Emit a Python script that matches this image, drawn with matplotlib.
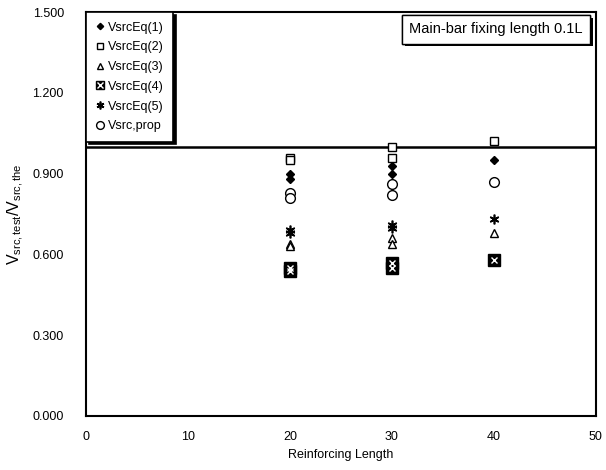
import matplotlib
matplotlib.use('Agg')
import matplotlib.pyplot as plt
import matplotlib.patheffects as pe
from matplotlib.legend_handler import HandlerTuple

plt.rcParams['font.family'] = ['Liberation Sans', 'DejaVu Sans']
plt.rcParams['mathtext.fontset'] = 'custom'
plt.rcParams['mathtext.rm'] = 'Liberation Sans'
plt.rcParams['mathtext.it'] = 'Liberation Sans'

# reinforcing length for every specimen
length = [20, 20, 30, 30, 40]

# ratio of test to predicted strength
eq1 = [0.90, 0.88, 0.93, 0.90, 0.95]
eq2 = [0.96, 0.95, 1.00, 0.96, 1.02]
eq3 = [0.64, 0.63, 0.66, 0.64, 0.68]
eq4 = [0.55, 0.54, 0.57, 0.55, 0.58]
eq5 = [0.69, 0.68, 0.71, 0.70, 0.73]
prop = [0.83, 0.81, 0.86, 0.82, 0.87]

labels = ['VsrcEq(1)', 'VsrcEq(2)', 'VsrcEq(3)', 'VsrcEq(4)', 'VsrcEq(5)', 'Vsrc,prop']
xticks = [0, 10, 20, 30, 40, 50]
yticks = [0.0, 0.3, 0.6, 0.9, 1.2, 1.5]

fig = plt.figure(figsize=(6.06, 4.70), dpi=100)
ax = fig.add_axes([0.142, 0.115, 0.841, 0.859])

ax.axhline(1.0, color='black', lw=1.8, zorder=1)

h1, = ax.plot(length, eq1, 'D', ms=4, mfc='black', mec='black', ls='none')
h2, = ax.plot(length, eq2, 's', ms=6, mfc='white', mec='black', mew=1, ls='none')
h3, = ax.plot(length, eq3, '^', ms=6, mfc='white', mec='black', mew=1, ls='none')
h4a, = ax.plot(length, eq4, 's', ms=8, mfc='black', mec='black', ls='none')
h4b, = ax.plot(length, eq4, 'x', ms=5, mec='white', mew=1, ls='none')
h5, = ax.plot(length, eq5, marker=(6, 2, 0), ms=7, mec='black', mew=1.2, ls='none')
h6, = ax.plot(length, prop, 'o', ms=7, mfc='white', mec='black', mew=1, ls='none')

leg = ax.legend([h1, h2, h3, (h4a, h4b), h5, h6], labels,
                handler_map={tuple: HandlerTuple(ndivide=1, pad=0)},
                loc='upper left', bbox_to_anchor=(0, 1), borderaxespad=0,
                fancybox=False, edgecolor='black', framealpha=1,
                shadow={'color': 'black', 'alpha': 1},
                fontsize=9, handlelength=0.8, handletextpad=0.2,
                labelspacing=0.62, borderpad=0.75, markerscale=0.8)
leg.get_frame().set_linewidth(1.2)

t = ax.text(0.975, 0.975, 'Main-bar fixing length 0.1L', transform=ax.transAxes,
            ha='right', va='top', fontsize=10.5,
            bbox=dict(boxstyle='square,pad=0.5', fc='white', ec='black', lw=1.0))
t.get_bbox_patch().set_path_effects([
    pe.withSimplePatchShadow(offset=(2, -2), shadow_rgbFace='black', alpha=1),
    pe.Normal()])

ax.set_xlim(0, 50)
ax.set_ylim(0, 1.5)
ax.set_xticks(xticks)
ax.set_yticks(yticks)
ax.set_yticklabels(['%.3f' % v for v in yticks])
ax.tick_params(length=0, labelsize=9)
ax.tick_params(axis='y', pad=16)
ax.tick_params(axis='x', pad=11)
for s in ax.spines.values():
    s.set_linewidth(1.5)

ax.set_xlabel('Reinforcing Length', fontsize=9, labelpad=4)
ax.set_ylabel(r'V$_{\mathregular{src,test}}$/V$_{\mathregular{src,the}}$', fontsize=11.5, labelpad=5)

fig.savefig('out.png', dpi=100)
